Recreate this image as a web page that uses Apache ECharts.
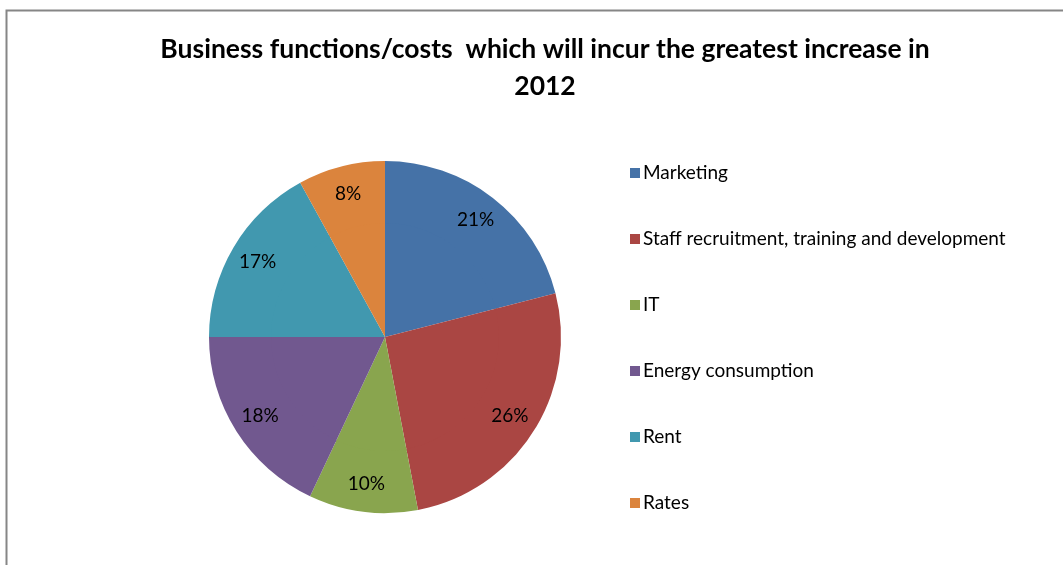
<!DOCTYPE html>
<html>
<head>
<meta charset="utf-8">
<script src="https://cdn.jsdelivr.net/npm/echarts@6/dist/echarts.min.js"></script>
<style>
  html, body { margin: 0; padding: 0; background: #fff; }
  #chart { width: 1063px; height: 565px; }
</style>
</head>
<body>
<div id="chart"></div>
<script>
// Cost areas and their share of expected increase (%)
const categories = [
  'Marketing',
  'Staff recruitment, training and development',
  'IT',
  'Energy consumption',
  'Rent',
  'Rates'
];
const shares = [21, 26, 10, 18, 17, 8];
const colors = ['#4572A7', '#AA4643', '#89A54E', '#71588F', '#4198AF', '#DB843D'];

const pieData = categories.map((name, i) => ({
  name: name,
  value: shares[i],
  itemStyle: { color: colors[i] }
}));

const chart = echarts.init(document.getElementById('chart'), null, { renderer: 'canvas' });
const center = [385, 337];

chart.setOption({
  animation: false,
  backgroundColor: '#ffffff',
  title: {
    text: 'Business functions/costs  which will incur the greatest increase in\n2012',
    left: 540,
    textAlign: 'center',
    top: 26,
    textStyle: {
      fontFamily: 'Lato',
      fontWeight: 'bold',
      fontSize: 26.5,
      lineHeight: 37,
      color: '#000'
    }
  },
  legend: {
    orient: 'vertical',
    left: 625,
    top: 157,
    itemWidth: 10,
    itemHeight: 10,
    itemGap: 44,
    icon: 'rect',
    data: categories,
    textStyle: {
      fontFamily: 'Lato',
      fontSize: 19,
      lineHeight: 22,
      color: '#000',
      padding: [0, 0, 0, -2]
    }
  },
  graphic: [{
    type: 'rect',
    shape: { x: 6.5, y: 10.5, width: 1200, height: 700 },
    style: { fill: 'none', stroke: '#868686', lineWidth: 2 },
    silent: true,
    z: 100
  }],
  series: [
    {
      // solid core of the pie
      type: 'pie',
      center: center,
      radius: [0, 116],
      startAngle: 90,
      clockwise: true,
      label: { show: false },
      labelLine: { show: false },
      emphasis: { disabled: true },
      silent: true,
      legendHoverLink: false,
      data: pieData
    },
    {
      // outer band carrying the percentage labels
      type: 'pie',
      center: center,
      radius: [114, 176],
      startAngle: 90,
      clockwise: true,
      label: {
        show: true,
        position: 'inside',
        formatter: p => p.value + '%',
        fontFamily: 'Lato',
        fontSize: 19,
        color: '#000'
      },
      labelLine: { show: false },
      emphasis: { disabled: true },
      data: pieData
    }
  ]
});
</script>
</body>
</html>
